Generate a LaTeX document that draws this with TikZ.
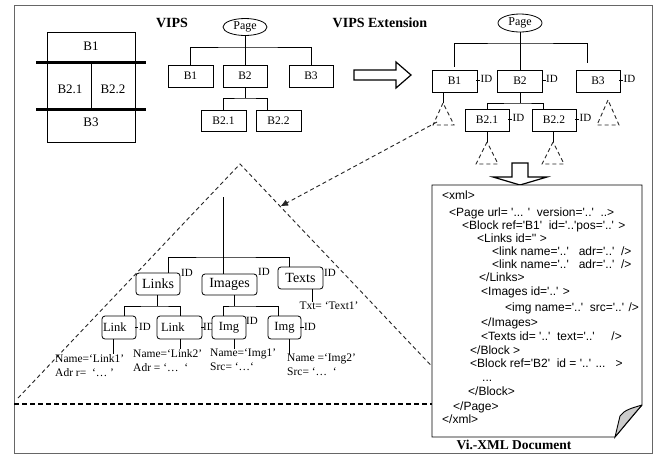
\documentclass[tikz,border=0pt]{standalone}
\usepackage{fontspec}
\setmainfont{Liberation Serif}
\newfontfamily\docsans{Liberation Sans}[Ligatures=TeXOff]
\usetikzlibrary{arrows.meta,shapes.geometric}
\begin{document}
\begin{tikzpicture}[x=1pt,y=-1pt,
  every node/.style={inner sep=0pt},
  ln/.style={line width=0.8pt},
  sq/.style={draw, line width=0.8pt, fill=white, minimum height=22pt, font=\fontsize{11.5}{12}\selectfont},
  rb/.style={sq, rounded corners=3pt, font=\fontsize{14}{15}\selectfont},
  cb/.style={sq, rounded corners=3pt, minimum height=23pt, font=\fontsize{12.5}{13}\selectfont},
  oval/.style={draw, ellipse, line width=0.8pt, minimum width=44pt, minimum height=17pt, font=\fontsize{12}{13}\selectfont},
  big/.style={font=\fontsize{13}{14}\selectfont},
  idt/.style={font=\fontsize{11}{12}\selectfont},
  ttl/.style={font=\bfseries\fontsize{14}{16}\selectfont},
  attr/.style={font=\fontsize{11.5}{14}\selectfont, align=left, anchor=north west},
  doc/.style={font=\docsans\fontsize{12}{13}\selectfont, anchor=base west},
  dsh/.style={dash pattern=on 4pt off 3pt, line width=0.9pt, black!85},
  hollow/.style={line width=1.2pt, fill=white}
]
\path[use as bounding box, fill=white] (0,0) rectangle (663,456);
\draw[line width=1pt, black!60] (14,5) rectangle (652,453);

% titles
\node[ttl] (tv) at (172,23) {VIPS};
\node[ttl] (tve) at (380,23) {VIPS Extension};

% left layout
\node[draw, line width=0.8pt, minimum width=88pt, minimum height=110pt] (lay) at (91,87) {};
\draw[line width=3pt] (36,62) -- (146,62);
\draw[line width=3pt] (36,109) -- (146,109);
\draw[ln] (91,64) -- (91,108);
\node[big] (lb1) at (91,46) {B1};
\node[big] (lb21) at (70,89) {B2.1};
\node[big] (lb22) at (113,89) {B2.2};
\node[big] (lb3) at (91,122) {B3};

% VIPS tree
\node[oval] (p1) at (245,27) {Page};
\node[sq, minimum width=45pt] (v1) at (190.5,76) {B1};
\node[sq, minimum width=44pt] (v2) at (245,76) {B2};
\node[sq, minimum width=44pt] (v3) at (311,76) {B3};
\node[sq, minimum width=45pt, minimum height=21pt] (v21) at (223.5,120.5) {B2.1};
\node[sq, minimum width=45pt, minimum height=21pt] (v22) at (278.5,120.5) {B2.2};
\coordinate (vb) at (245,47);
\coordinate (vb2) at (245,98);
\draw[ln] (v1.north) |- (vb) -| (v3.north);
\draw[ln] (p1.south) -- (v2.north);
\draw[ln] (v2.south) -- (vb2);
\draw[ln] (v21.north) |- (vb2) -| ([xshift=-11.5pt]v22.north);

% hollow right arrow
\draw[hollow] (354,70) -- (396,70) -- (396,62) -- (411,75) -- (396,88) -- (396,80) -- (354,80) -- cycle;

% VIPS extension tree
\node[oval, minimum height=18pt] (p2) at (520,23) {Page};
\node[sq, minimum width=45pt] (e1) at (454.5,81) {B1};
\node[sq, minimum width=45pt] (e2) at (520,81) {B2};
\node[sq, minimum width=44pt] (e3) at (598,81) {B3};
\node[sq, minimum width=44pt] (e21) at (487,120) {B2.1};
\node[sq, minimum width=44pt] (e22) at (554,120) {B2.2};
\coordinate (eb) at (520,43);
\coordinate (eb2) at (520,103);
\draw[ln] ([yshift=3pt]e1.north) |- (eb) -| ([xshift=-11pt,yshift=7pt]e3.north);
\draw[ln] (p2.south) -- (e2.north);
\draw[ln] (e2.south) -- (eb2);
\draw[ln] (e21.north) |- (eb2) -| ([xshift=-11pt]e22.north);
\foreach \b in {e1,e2,e3,e21,e22}{
  \draw[ln] ([xshift=-1pt,yshift=1pt]\b.east) -- ++(4,0);
  \node[idt, anchor=west] (id\b) at ([xshift=3pt,yshift=2pt]\b.east) {ID};
}

% small dashed triangles
\coordinate (t1) at (443,103);
\coordinate (t21) at (487,142);
\coordinate (t22) at (553,142);
\coordinate (t3) at (608,100);
\draw[dsh] (t1) -- (433,125) -- (454,125) -- cycle;
\draw[dsh] (t21) -- (476,164) -- (498,164) -- cycle;
\draw[dsh] (t22) -- (542,164) -- (564,164) -- cycle;
\draw[dsh] (t3) -- (597,125) -- (619,125) -- cycle;
\draw[ln] ([xshift=-11.5pt]e1.south) -- (t1);
\draw[ln] (e21.south) -- (t21);
\draw[ln] ([xshift=-1pt]e22.south) -- (t22);

% big dashed triangle and dashed arrow
\coordinate (ba) at (240,164);
\coordinate (bt) at (281,206);
\coordinate (t1s) at (437,122);
\draw[dsh] (18,398) -- (ba) -- (462,398);
\draw[dsh, -{Triangle[length=7pt,width=6pt]}] (t1s) -- (bt);
\draw[dash pattern=on 5pt off 3pt, line width=1.3pt] (14,404) -- (432,404);

% inner tree
\coordinate (itop) at (223,197);
\coordinate (ib) at (223,257);
\node[rb, minimum width=44pt] (links) at (158,284) {Links};
\node[rb, minimum width=55pt, minimum height=21pt] (images) at (229.5,284.5) {Images};
\node[rb, minimum width=45pt] (texts) at (300.5,278) {Texts};
\draw[ln] (itop) -- (ib);
\draw[ln] ([xshift=10pt]links.north) |- (ib) -| ([xshift=-11.5pt]texts.north);
\draw[ln] (ib) -- ([xshift=-6.5pt]images.north);
\node[idt] (idl) at (187,273) {ID};
\node[idt] (idi) at (264,272) {ID};
\node[idt] (idtx) at (330,273) {ID};
\node[font=\fontsize{11.5}{12}\selectfont] (txt) at (329,306) {Txt= ‘Text1’};
\draw[ln] ([xshift=11.5pt]texts.south) -- ([xshift=11.5pt]texts.south |- txt.north);

% children
\node[cb, text width=32pt, inner xsep=1pt, align=left] (l1) at (119,327.5) {Link};
\node[idt, anchor=west] (idl1) at (139,327) {ID};
\draw[ln] (135,327) -- (138,327);
\node[cb, text width=37pt, inner xsep=4pt, align=left] (l2) at (179.5,327.5) {Link};
\node[idt, anchor=west] (idl2) at (203,327) {ID};
\draw[ln] (201,327) -- (204,327);
\node[cb, minimum width=34pt] (i1) at (229,327.5) {Img};
\node[idt] (idi1) at (252,321) {ID};
\node[cb, minimum width=33pt] (i2) at (284.5,327.5) {Img};
\node[idt, anchor=west] (idi2) at (304,327) {ID};
\draw[ln] (300,327) -- (304,327);
\coordinate (lb) at (157,306);
\coordinate (imb) at (234,306);
\draw[ln] ([xshift=-1pt]links.south) -- (lb);
\draw[ln] ([xshift=5pt]l1.north) |- (lb) -| ([xshift=0.5pt]l2.north);
\draw[ln] ([xshift=4.5pt]images.south) -- (imb);
\draw[ln] ([xshift=-6pt]i1.north) |- (imb) -| ([xshift=-6.5pt]i2.north);

% attribute labels
\node[attr] (a1) at (55,354) {Name=‘Link1’\\Adr r=\ \ ‘… ’};
\node[attr] (a2) at (133,349) {Name=‘Link2’\\Adr = ‘…\ \ ‘};
\node[attr] (a3) at (210,349) {Name=‘Img1’\\Src= ‘…‘};
\node[attr] (a4) at (287,354) {Name =‘Img2’\\Src= ‘…\ \ ‘};
\draw[ln] ([xshift=-6pt]l1.south) -- ([xshift=-6pt]l1.south |- a1.north);
\draw[ln] ([xshift=0.5pt]l2.south) -- ([xshift=0.5pt]l2.south |- a2.north);
\draw[ln] ([xshift=5pt]i1.south) -- ([xshift=5pt]i1.south |- a3.north);
\draw[ln] ([xshift=4.5pt]i2.south) -- ([xshift=4.5pt]i2.south |- a4.north);

% document
\draw[hollow] (512,163) -- (528,163) -- (528,177) -- (547,177) -- (520,185) -- (493,177) -- (512,177) -- cycle;
\draw[line width=0.9pt, fill=white] (432,185) -- (642,185) -- (642,405) -- (615,437) -- (432,437) -- cycle;
\draw[line width=0.9pt, fill=black!20] (642,405) .. controls (632,408) and (624,410) .. (620,416) -- (615,437) .. controls (625,425) and (634,414) .. (642,405);
\node[doc] (d1) at (442,199.5) {<xml>};
\node[doc] (d2) at (449,216.5) {<Page url= '... '\ \ version='..'\ \ ..>};
\node[doc] (d3) at (462,229) {<Block ref='B1'\ \ id='..'pos='..' >};
\node[doc] (d4) at (477,242) {<Links id='' >};
\node[doc] (d5) at (492,255.5) {<link name='..'\ \ \ adr='..'\ \ />};
\node[doc] (d6) at (492,268.5) {<link name='..'\ \ \ adr='..'\ \ />};
\node[doc] (d7) at (479,281.5) {</Links>};
\node[doc] (d8) at (481,295.5) {<Images id='..' >};
\node[doc] (d9) at (505,311) {<img name='..'\ \ src='..' />};
\node[doc] (d10) at (481,326.5) {</Images>};
\node[doc] (d11) at (481,340.5) {<Texts id= '..'\ \ text='..'\ \ \ \ \ />};
\node[doc] (d12) at (470,354.5) {</Block >};
\node[doc] (d13) at (470,367.5) {<Block ref='B2'\ \ id = '..' ...\ \ \ >};
\node[doc] (d14) at (482,381) {...};
\node[doc] (d15) at (468,395.5) {</Block>};
\node[doc] (d16) at (453,410.5) {</Page>};
\node[doc] (d17) at (442,423.5) {</xml>};
\node[font=\bfseries\fontsize{13.5}{14}\selectfont] (cap) at (514,445) {Vi.-XML Document};
\end{tikzpicture}
\end{document}
